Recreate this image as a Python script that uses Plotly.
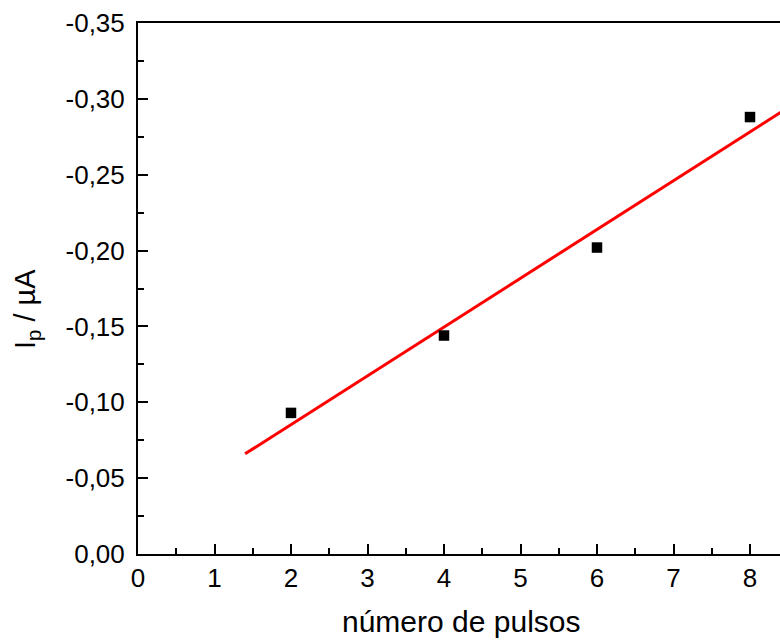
import numpy as np
import plotly.graph_objects as go

# Peak current versus number of pulses
pulsos = [2, 4, 6, 8]
corriente = [-0.093, -0.144, -0.202, -0.288]

# x-span of the linear fit
ajuste_x = [1.4, 8.6]

x_tickvals = [0, 1, 2, 3, 4, 5, 6, 7, 8]
x_ticktext = ["0", "1", "2", "3", "4", "5", "6", "7", "8"]
y_tickvals = [0.0, -0.05, -0.10, -0.15, -0.20, -0.25, -0.30, -0.35]
y_ticktext = ["0,00", "-0,05", "-0,10", "-0,15", "-0,20", "-0,25", "-0,30", "-0,35"]

pendiente, intercepto = np.polyfit(pulsos, corriente, 1)
ajuste_y = [pendiente * x + intercepto for x in ajuste_x]

FONT = "Liberation Sans, Arial, Helvetica, sans-serif"

fig = go.Figure()
fig.add_trace(go.Scatter(
    x=ajuste_x, y=ajuste_y, mode="lines",
    line=dict(color="#ff0000", width=3),
    showlegend=False, cliponaxis=True,
))
fig.add_trace(go.Scatter(
    x=pulsos, y=corriente, mode="markers",
    marker=dict(symbol="square", size=10.5, color="black", line=dict(width=0)),
    showlegend=False,
))

W, H = 780, 644
L, R, T, B = 138, 0, 23, 90
plot_w = W - L - R
plot_h = H - T - B

axis_common = dict(
    showline=True, linecolor="black", linewidth=2,
    ticks="inside", ticklen=10, tickwidth=2, tickcolor="black",
    showgrid=False, zeroline=False,
    tickfont=dict(family=FONT, size=26, color="black"),
    tickmode="array",
)

fig.update_layout(
    width=W, height=H,
    margin=dict(l=L, r=R, t=T, b=B, pad=0),
    paper_bgcolor="white", plot_bgcolor="white",
    font=dict(family=FONT, color="black"),
    xaxis=dict(
        **axis_common,
        range=[0, 642 / 76.5],
        tickvals=x_tickvals, ticktext=x_ticktext,
        mirror=True,
        minor=dict(tickmode="linear", tick0=0, dtick=0.5, ticks="inside",
                   ticklen=6, tickwidth=2, tickcolor="black"),
    ),
    yaxis=dict(
        **axis_common,
        range=[0, -0.35],
        tickvals=y_tickvals, ticktext=y_ticktext,
        ticklabelstandoff=6,
        minor=dict(tickmode="linear", tick0=0, dtick=0.025, ticks="inside",
                   ticklen=6, tickwidth=2, tickcolor="black"),
    ),
    annotations=[
        dict(
            text="número de pulsos",
            xref="paper", yref="paper",
            x=(460.5 - L) / plot_w, y=-(603 - (T + plot_h)) / plot_h,
            xanchor="center", yanchor="top", showarrow=False,
            font=dict(family=FONT, size=30, color="black"),
        ),
        dict(
            text="I<sub>p</sub> / µA",
            xref="paper", yref="paper",
            x=-(L - 27) / plot_w, y=(T + plot_h - 309) / plot_h,
            xanchor="center", yanchor="middle", showarrow=False,
            textangle=-90,
            font=dict(family=FONT, size=29, color="black"),
        ),
    ],
)

fig.write_html("out.html")
